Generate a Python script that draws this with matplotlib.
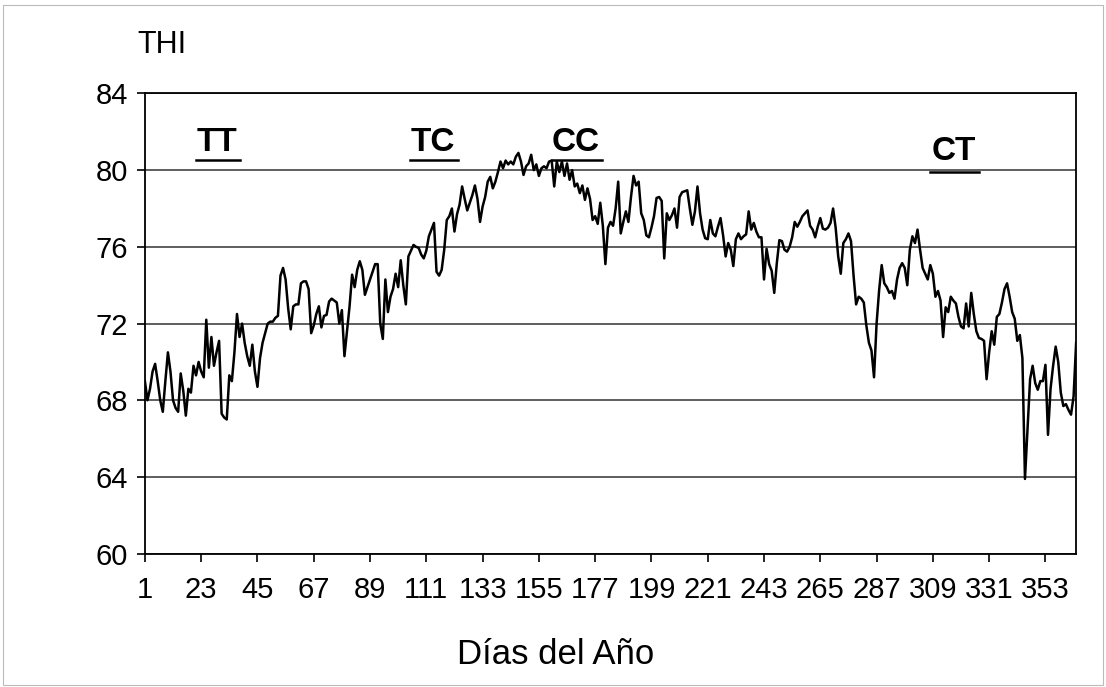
import matplotlib.pyplot as plt
from matplotlib.patches import Rectangle

# THI diario, días 1..365
thi = [
    69.0, 68.0, 68.6, 69.5, 69.9, 69.0, 68.0, 67.4, 69.0, 70.5,
    69.5, 68.0, 67.6, 67.4, 69.4, 68.5, 67.2, 68.6, 68.4, 69.8,
    69.3, 70.0, 69.5, 69.2, 72.2, 69.7, 71.3, 69.8, 70.5, 71.1,
    67.3, 67.1, 67.0, 69.3, 69.0, 70.5, 72.5, 71.3, 72.0, 71.0,
    70.3, 69.8, 70.9, 69.5, 68.7, 70.2, 71.0, 71.5, 72.0, 72.1,
    72.1, 72.3, 72.4, 74.5, 74.9, 74.3, 72.8, 71.7, 72.9, 73.0,
    73.0, 74.1, 74.2, 74.2, 73.8, 71.5, 71.9, 72.5, 72.9, 71.8,
    72.4, 72.45, 73.15, 73.3, 73.2, 73.1, 72.0, 72.7, 70.3, 71.6,
    72.9, 74.55, 73.9, 74.8, 75.25, 74.8, 73.5, 73.9, 74.3, 74.7,
    75.1, 75.1, 72.0, 71.2, 74.3, 72.6, 73.4, 73.8, 74.6, 73.9,
    75.3, 74.0, 73.0, 75.5, 75.8, 76.1, 76.0, 75.95, 75.6, 75.4,
    75.8, 76.55, 76.9, 77.25, 74.7, 74.5, 74.8, 75.85, 77.4, 77.6,
    78.0, 76.8, 77.7, 78.2, 79.15, 78.5, 77.9, 78.3, 78.7, 79.2,
    78.5, 77.3, 78.1, 78.6, 79.4, 79.65, 79.05, 79.4, 79.9, 80.45,
    80.1, 80.5, 80.3, 80.45, 80.3, 80.7, 80.9, 80.45, 79.75, 80.2,
    80.35, 80.8, 80.0, 80.3, 79.7, 80.1, 80.2, 80.1, 80.45, 80.5,
    79.15, 80.45, 79.9, 80.45, 79.7, 80.35, 79.5, 80.0, 79.15, 79.3,
    78.8, 79.2, 78.45, 79.05, 78.5, 77.4, 77.6, 77.2, 78.3, 77.1,
    75.1, 77.0, 77.3, 77.1, 78.0, 79.4, 76.7, 77.3, 77.85, 77.3,
    78.6, 79.7, 79.2, 79.4, 77.75, 77.4, 76.6, 76.5, 77.0, 77.6,
    78.55, 78.6, 78.4, 75.4, 77.75, 77.4, 77.65, 78.0, 77.0, 78.6,
    78.85, 78.9, 78.95, 78.0, 77.15, 77.85, 79.15, 77.75, 76.9, 76.45,
    76.4, 77.4, 76.7, 76.55, 77.05, 77.5, 76.6, 75.5, 76.2, 75.85,
    75.0, 76.4, 76.7, 76.4, 76.55, 76.65, 77.85, 76.9, 77.25, 76.8,
    76.5, 76.5, 74.3, 75.9, 75.1, 74.75, 73.6, 75.15, 76.35, 76.3,
    75.85, 75.75, 76.0, 76.5, 77.3, 77.05, 77.3, 77.6, 77.75, 77.9,
    77.1, 76.9, 76.5, 77.05, 77.5, 76.95, 76.9, 77.0, 77.25, 78.0,
    77.0, 75.5, 74.6, 76.2, 76.4, 76.7, 76.3, 74.5, 73.0, 73.4,
    73.3, 73.1, 71.9, 71.0, 70.6, 69.2, 72.0, 73.75, 75.05, 74.1,
    73.9, 73.6, 73.7, 73.3, 74.3, 74.9, 75.15, 74.9, 74.0, 75.85,
    76.55, 76.2, 76.9, 75.85, 74.9, 74.6, 74.3, 75.05, 74.6, 73.4,
    73.7, 73.2, 71.3, 72.85, 72.6, 73.4, 73.2, 73.05, 72.35, 71.85,
    71.75, 73.05, 71.85, 73.6, 72.5, 71.6, 71.25, 71.2, 71.1, 69.1,
    70.5, 71.6, 70.9, 72.35, 72.5, 73.1, 73.8, 74.1, 73.4, 72.6,
    72.25, 71.1, 71.4, 70.2, 63.9, 66.5, 69.1, 69.8, 68.9, 68.55,
    69.0, 69.0, 69.85, 66.2, 68.6, 69.8, 70.8, 70.0, 68.4, 67.7,
    67.8, 67.5, 67.25, 68.2, 71.0,
]
days = list(range(1, len(thi) + 1))

x_ticks = list(range(1, 366, 22))
y_ticks = [60, 64, 68, 72, 76, 80, 84]

# etiquetas de periodo: texto, día central, día inicio/fin del subrayado, altura
periodos = ["TT", "TC", "CC", "CT"]
per_x = [29, 113.5, 169.4, 317]
per_y = [81.45, 81.45, 81.45, 80.95]
sub_ini = [21, 104.5, 160, 308]
sub_fin = [38, 123.3, 179.5, 327]
sub_y = [80.55, 80.55, 80.55, 79.9]

plt.rcParams['font.family'] = ['Liberation Sans', 'DejaVu Sans']

fig = plt.figure(figsize=(11.06, 6.87), dpi=100)
ax = fig.add_axes([0.131, 0.194, 0.842, 0.670])

ax.plot(days, thi, color='black', lw=1.8)

ax.set_xlim(1, 365)
ax.set_ylim(60, 84)
ax.set_xticks(x_ticks)
ax.set_yticks(y_ticks)
ax.tick_params(labelsize=21, length=6, width=1.2, direction='out')
ax.tick_params(axis='x', pad=10)
ax.tick_params(axis='y', pad=6)
ax.yaxis.grid(True, color='#333333', lw=1.1)
ax.set_axisbelow(True)
for s in ax.spines.values():
    s.set_linewidth(1.3)
    s.set_color('black')

for t, xx, yy, a, b, sy in zip(periodos, per_x, per_y, sub_ini, sub_fin, sub_y):
    ax.text(xx, yy, t, fontsize=24, fontweight='bold', ha='center', va='center')
    ax.plot([a, b], [sy, sy], color='black', lw=1.8)

fig.text(0.124, 0.935, "THI", fontsize=22, ha='left', va='center')
fig.text(0.502, 0.047, "Días del Año", fontsize=25, ha='center', va='center')

fig.patches.append(Rectangle((0.003, 0.003), 0.994, 0.99, transform=fig.transFigure,
                             fill=False, edgecolor='#bbbbbb', lw=0.8))

fig.savefig('out.png', dpi=100)
